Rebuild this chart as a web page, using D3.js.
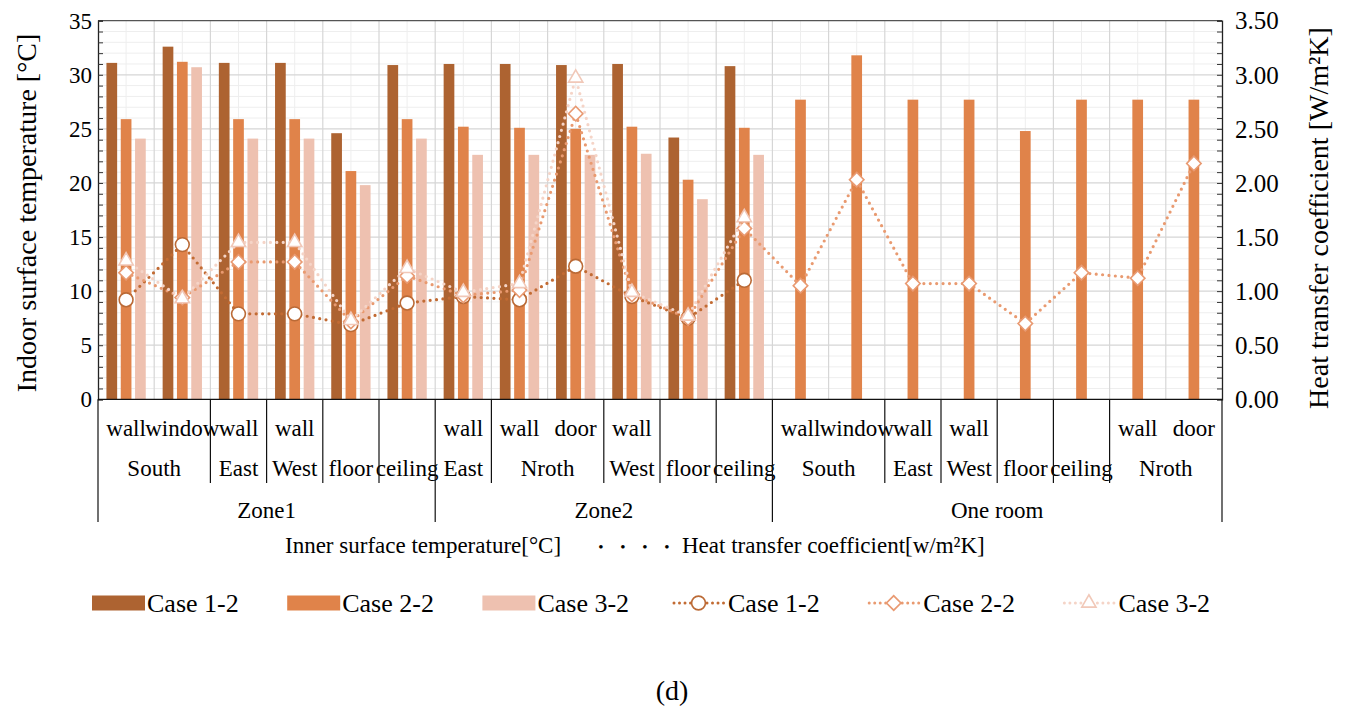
<!DOCTYPE html>
<html><head><meta charset="utf-8">
<script src="https://cdn.jsdelivr.net/npm/d3@7"></script>
<style>
body{margin:0;background:#fff}
svg{display:block}
text{font-family:"Liberation Serif","Times New Roman",serif;fill:#000}
</style>
</head><body><svg id="c" width="1345" height="711"></svg>
<script>
// ---------- data ----------
const surfaces = ["wall","window","wall","wall","","","wall","wall","door","wall","","","wall","window","wall","wall","","","wall","door"];
const orientations = ["South","South","East","West","floor","ceiling","East","Nroth","Nroth","West","floor","ceiling","South","South","East","West","floor","ceiling","Nroth","Nroth"];
const zones = ["Zone1","Zone1","Zone1","Zone1","Zone1","Zone1","Zone2","Zone2","Zone2","Zone2","Zone2","Zone2","One room","One room","One room","One room","One room","One room","One room","One room"];
const seriesNames = ["Case 1-2","Case 2-2","Case 3-2"];
const case1Temp = [31.1,32.6,31.1,31.1,24.6,30.9,31.0,31.0,30.9,31.0,24.2,30.8,null,null,null,null,null,null,null,null];
const case2Temp = [25.9,31.2,25.9,25.9,21.1,25.9,25.2,25.1,25.0,25.2,20.3,25.1,27.7,31.8,27.7,27.7,24.8,27.7,27.7,27.7];
const case3Temp = [24.1,30.7,24.1,24.1,19.8,24.1,22.6,22.6,22.6,22.7,18.5,22.6,null,null,null,null,null,null,null,null];
const case1U = [0.92,1.43,0.79,0.79,0.69,0.89,0.95,0.92,1.23,0.95,0.75,1.10,null,null,null,null,null,null,null,null];
const case2U = [1.17,0.94,1.27,1.27,0.72,1.14,0.96,1.01,2.64,0.97,0.75,1.58,1.05,2.03,1.07,1.07,0.70,1.17,1.12,2.18];
const case3U = [1.28,0.93,1.45,1.45,0.73,1.21,0.99,1.07,2.97,0.99,0.77,1.68,null,null,null,null,null,null,null,null];
const leftTicks = [0,5,10,15,20,25,30,35];
const rightTicks = [0,0.5,1,1.5,2,2.5,3,3.5];
const leftTitle = "Indoor surface temperature [°C]";
const rightTitle = "Heat transfer coefficient [W/m²K]";
const legendTitle1 = "Inner surface temperature[°C]";
const legendTitle2 = "Heat transfer coefficient[w/m²K]";
const caption = "(d)";

// ---------- styles ----------
const barColors = ["#AD6331","#E0834A","#EEC1B0"];
const lineColors = ["#C26B33","#E99A70","#F5D4C7"];
const markerStroke = ["#BB6A36","#E99A72","#F1C8B8"];
const markerTypes = ["circle","diamond","triangle"];

const svg = d3.select("#c");
const L = 98, R = 1222, T = 20.7, B = 399.3;
const n = surfaces.length;
const x = d3.scaleBand().domain(d3.range(n)).range([L,R]).paddingInner(0).paddingOuter(0);
const x1 = d3.scaleBand().domain([0,1,2]).range([0,x.bandwidth()]).paddingInner(0.252).paddingOuter(0.59);
const yL = d3.scaleLinear().domain([0,35]).range([B,T]);
const yR = d3.scaleLinear().domain([0,3.5]).range([B,T]);

// grid
const g = svg.append("g");
g.selectAll("line.hmin").data(d3.range(1,35).filter(v=>v%5!==0)).join("line")
  .attr("x1",L).attr("x2",R).attr("y1",d=>yL(d)).attr("y2",d=>yL(d))
  .attr("stroke","#eeeeee").attr("stroke-width",1);
g.selectAll("line.vmin").data(d3.range(n)).join("line")
  .attr("x1",d=>x(d)+x.bandwidth()/2).attr("x2",d=>x(d)+x.bandwidth()/2).attr("y1",T).attr("y2",B)
  .attr("stroke","#eeeeee").attr("stroke-width",1);
g.selectAll("line.hmaj").data(leftTicks.slice(1,-1)).join("line")
  .attr("x1",L).attr("x2",R).attr("y1",d=>yL(d)).attr("y2",d=>yL(d))
  .attr("stroke","#d6d6d6").attr("stroke-width",1.2);
g.selectAll("line.vmaj").data(d3.range(1,n)).join("line")
  .attr("x1",d=>x(d)).attr("x2",d=>x(d)).attr("y1",T).attr("y2",B)
  .attr("stroke","#d6d6d6").attr("stroke-width",1.2);

// bars
[case1Temp,case2Temp,case3Temp].forEach((arr,si)=>{
  svg.append("g").selectAll("rect").data(arr.map((v,i)=>({v,i})).filter(d=>d.v!=null)).join("rect")
    .attr("x",d=>x(d.i)+x1(si)).attr("width",x1.bandwidth())
    .attr("y",d=>yL(d.v)).attr("height",d=>B-yL(d.v))
    .attr("fill",barColors[si]);
});

// frame
svg.append("line").attr("x1",L).attr("x2",R).attr("y1",T).attr("y2",T).attr("stroke","#555").attr("stroke-width",1.2);

// axes
const axL = svg.append("g").attr("transform",`translate(${L},0)`)
  .call(d3.axisRight(yL).tickValues(d3.range(0,36,1)).tickSize(5).tickFormat(""));
axL.select(".domain").attr("stroke","#222").attr("stroke-width",1.3);
axL.selectAll(".tick line").attr("stroke","#333");
const axR = svg.append("g").attr("transform",`translate(${R},0)`)
  .call(d3.axisLeft(yR).tickValues(d3.range(0,36,1).map(v=>v/10)).tickSize(5).tickFormat(""));
axR.select(".domain").attr("stroke","#222").attr("stroke-width",1.3);
axR.selectAll(".tick line").attr("stroke","#333");

svg.append("g").selectAll("text").data(leftTicks).join("text")
  .attr("x",92).attr("y",d=>yL(d)).attr("dy","0.35em").attr("text-anchor","end")
  .attr("font-size",23).text(d=>d);
svg.append("g").selectAll("text").data(rightTicks).join("text")
  .attr("x",1235).attr("y",d=>yR(d)).attr("dy","0.35em").attr("text-anchor","start")
  .attr("font-size",25).text(d=>d3.format(".2f")(d));

svg.append("text").attr("transform",`translate(36,${(T+B)/2+3}) rotate(-90)`)
  .attr("text-anchor","middle").attr("font-size",28).text(leftTitle);
svg.append("text").attr("transform",`translate(1328,${(T+B)/2+8}) rotate(-90)`)
  .attr("text-anchor","middle").attr("font-size",28).text(rightTitle);

// lines + markers
const symbolFor = t => t==="circle" ? d3.symbol(d3.symbolCircle, 150)
  : t==="diamond" ? d3.symbol(d3.symbolSquare, 105)
  : d3.symbol(d3.symbolTriangle, 88);
[case1U,case2U,case3U].forEach((arr,si)=>{
  const pts = arr.map((v,i)=>({v,i}));
  const line = d3.line().defined(d=>d.v!=null).x(d=>x(d.i)+x.bandwidth()/2).y(d=>yR(d.v));
  svg.append("path").attr("d",line(pts)).attr("fill","none")
    .attr("stroke",lineColors[si]).attr("stroke-width",3.2)
    .attr("stroke-linecap","round").attr("stroke-dasharray","0 6.4");
  svg.append("g").selectAll("path").data(pts.filter(d=>d.v!=null)).join("path")
    .attr("d",symbolFor(markerTypes[si]))
    .attr("transform",d=>`translate(${x(d.i)+x.bandwidth()/2},${yR(d.v)})${markerTypes[si]==="diamond"?" rotate(45)":""}`)
    .attr("fill","#fff").attr("stroke",markerStroke[si]).attr("stroke-width",1.6);
});

// bottom axis line
svg.append("line").attr("x1",L).attr("x2",R).attr("y1",B).attr("y2",B).attr("stroke","#111").attr("stroke-width",1.3);

// multi-level category labels
const cat = svg.append("g").attr("font-size",23);
cat.selectAll("text").data(surfaces.map((s,i)=>({s,i})).filter(d=>d.s)).join("text")
  .attr("x",d=>x(d.i)+x.bandwidth()/2).attr("y",436).attr("text-anchor","middle").text(d=>d.s);

function runs(keyFn){
  const out=[]; let start=0;
  for(let i=1;i<=n;i++){
    if(i===n || keyFn(i)!==keyFn(start)){ out.push({start,end:i,label:keyFn(start)}); start=i; }
  }
  return out;
}
const groups = runs(i=>zones[i]+"|"+orientations[i]).map(r=>({...r,label:orientations[r.start]}));
const zoneRuns = runs(i=>zones[i]);
const catX = i => i>=n ? R : x(i);
cat.append("g").selectAll("text").data(groups).join("text")
  .attr("x",d=>(catX(d.start)+catX(d.end))/2).attr("y",476).attr("text-anchor","middle").text(d=>d.label);
cat.append("g").selectAll("text").data(zoneRuns).join("text")
  .attr("x",d=>(catX(d.start)+catX(d.end))/2).attr("y",518).attr("text-anchor","middle").text(d=>d.label);
const zoneEdges = new Set([0,n,...zoneRuns.map(r=>r.end)]);
const groupEdges = groups.map(r=>r.end).filter(e=>!zoneEdges.has(e));
svg.append("g").selectAll("line").data(groupEdges).join("line")
  .attr("x1",d=>catX(d)).attr("x2",d=>catX(d)).attr("y1",B).attr("y2",483)
  .attr("stroke","#111").attr("stroke-width",1.2);
svg.append("g").selectAll("line").data([...zoneEdges]).join("line")
  .attr("x1",d=>catX(d)).attr("x2",d=>catX(d)).attr("y1",B).attr("y2",522)
  .attr("stroke","#111").attr("stroke-width",1.2);

// legend row 1
svg.append("text").attr("x",285).attr("y",553).attr("font-size",23).text(legendTitle1);
const dotsX = [601,623,645,667];
svg.append("g").selectAll("text").data(dotsX).join("text")
  .attr("x",d=>d).attr("y",552).attr("font-size",15).attr("text-anchor","middle").text("•");
svg.append("text").attr("x",682).attr("y",553).attr("font-size",23).text(legendTitle2);

// legend row 2
const lg = svg.append("g").attr("font-size",26);
const step = 195.2, ly = 603;
seriesNames.forEach((nm,si)=>{
  const x0 = 92 + si*step;
  lg.append("rect").attr("x",x0).attr("y",ly-7.5).attr("width",53).attr("height",15).attr("fill",barColors[si]);
  lg.append("text").attr("x",x0+55).attr("y",ly+9).text(nm);
});
seriesNames.forEach((nm,si)=>{
  const x0 = 672 + si*step;
  lg.append("line").attr("x1",x0+2).attr("x2",x0+52).attr("y1",ly).attr("y2",ly)
    .attr("stroke",lineColors[si]).attr("stroke-width",3)
    .attr("stroke-linecap","round").attr("stroke-dasharray","0 5.5");
  lg.append("path").attr("d",symbolFor(markerTypes[si])())
    .attr("transform",`translate(${x0+26.5},${ly})${markerTypes[si]==="diamond"?" rotate(45)":""}`)
    .attr("fill","#fff").attr("stroke",markerStroke[si]).attr("stroke-width",1.6);
  lg.append("text").attr("x",x0+56).attr("y",ly+9).text(nm);
});

svg.append("text").attr("x",672).attr("y",700).attr("text-anchor","middle").attr("font-size",28).text(caption);
</script>
</body></html>
